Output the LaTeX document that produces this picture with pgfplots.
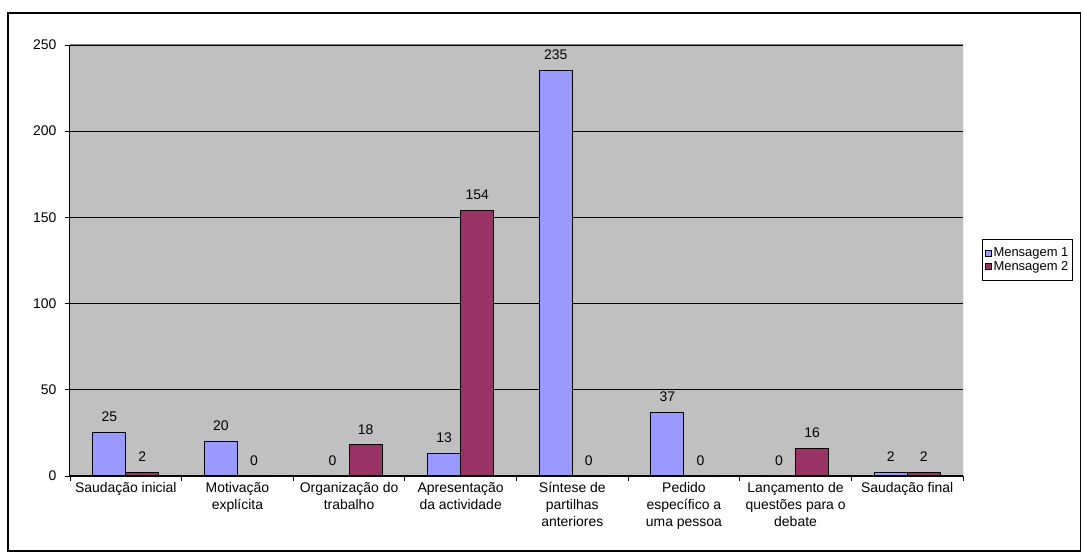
\documentclass[border=0pt]{standalone}
\usepackage{fontspec}
\setmainfont{Liberation Sans}
\usepackage{pgfplots}
\pgfplotsset{compat=1.18}

\definecolor{msgA}{HTML}{9999FF}
\definecolor{msgB}{HTML}{993366}
\definecolor{plotbg}{HTML}{C0C0C0}
\definecolor{frame}{HTML}{808080}

\newcommand{\lbl}{\fontsize{14}{17}\selectfont}
\newcommand{\leg}{\fontsize{13}{15}\selectfont}

\begin{document}
\begin{tikzpicture}[x=1bp,y=1bp]
% picture frame, same size as the reference
\path[use as bounding box] (-70,-77) rectangle (1012,476);
\begin{axis}[
    scale only axis,
    width=893bp, height=431bp,
    at={(0,0)}, anchor=south west,
    ybar=0pt, bar width=33bp,
    xmin=-0.5, xmax=7.5,
    ymin=0, ymax=250,
    ytick={0,50,...,250},
    xtick={-0.5,0.5,...,7.5},
    xticklabels={},
    extra x ticks={0,...,7},
    extra x tick labels={
        Saudação inicial,
        Motivação\\explícita,
        Organização do\\trabalho,
        Apresentação\\da actividade,
        Síntese de\\partilhas\\anteriores,
        Pedido\\específico a\\uma pessoa,
        Lançamento de\\questões para o\\debate,
        Saudação final},
    extra x tick style={major tick length=0pt, grid=none},
    x tick label style={font=\lbl, align=center, yshift=-3bp},
    y tick label style={font=\lbl, xshift=-5bp},
    /pgf/number format/assume math mode=true,
    tick align=outside,
    major tick length=5bp,
    tick style={black, line width=0.8bp},
    axis x line*=bottom,
    axis y line*=left,
    axis line style={black, line width=1bp, -},
    axis background/.style={fill=plotbg},
    ymajorgrids,
    major grid style={black, line width=0.8bp},
    nodes near coords,
    every node near coord/.append style={font=\lbl, yshift=7bp},
    legend image code/.code={\draw[#1,draw=black,line width=0.8bp] (0bp,-3bp) rectangle (6bp,3bp);},
    legend style={at={(1.021,0.501)}, anchor=west, draw=black, line width=1bp,
        font=\leg, row sep=0pt, inner xsep=3bp, inner ysep=7bp,
        nodes={inner sep=1.5bp}},
    legend cell align=left,
]
\addplot[fill=msgA, draw=black, line width=1bp] coordinates {
    (0,25) (1,20) (2,0) (3,13) (4,235) (5,37) (6,0) (7,2)};
\addplot[fill=msgB, draw=black, line width=1bp] coordinates {
    (0,2) (1,0) (2,18) (3,154) (4,0) (5,0) (6,16) (7,2)};
\legend{Mensagem 1, Mensagem 2}
\draw[frame, line width=1bp] (rel axis cs:0,1) -- (rel axis cs:1,1) -- (rel axis cs:1,0);
\end{axis}
\draw[black, line width=1.5bp] (-62,-75) rectangle (1010.5,463);
\end{tikzpicture}
\end{document}
